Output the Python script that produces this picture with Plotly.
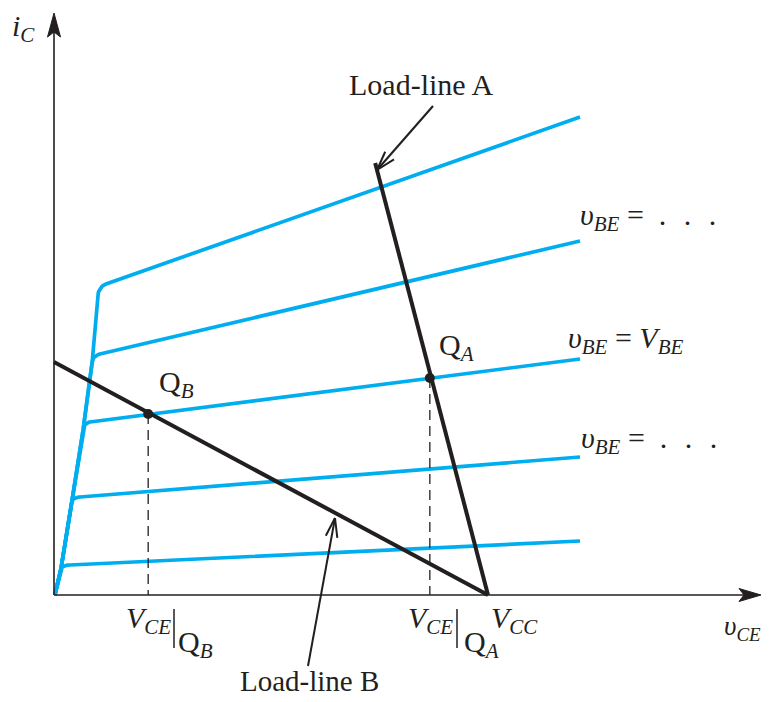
import numpy as np
import plotly.graph_objects as go

# ---------------- data (schematic: v_CE in V, i_C in mA) ----------------
VCC = 10.0
vce_end = 12.12
sat_origin_vce = 0.02
curve_vce_bend = [0.16, 0.41, 0.67, 0.88, 0.99]
curve_ic_bend = [0.52, 1.86, 3.30, 4.66, 5.90]
curve_vce_flat = [0.37, 0.60, 0.83, 1.06, 1.20]
curve_ic_flat = [0.60, 1.96, 3.46, 4.82, 6.22]
curve_ic_end = [1.08, 2.76, 4.72, 7.08, 9.56]

loadA_vce = [7.40, VCC]
loadA_ic = [8.64, 0.0]
loadB_vce = [0.0, VCC]
loadB_ic = [4.66, 0.0]
qA_vce, qA_ic = 8.66, 4.34
qB_vce, qB_ic = 2.17, 3.62

# ---------------- page geometry ----------------
W, H = 770, 702           # browser window
OFF = 8                   # default body margin of the html page
X0, Y0 = 54, 595          # window-pixel position of the origin
SX, SY = 43.4, 50.0       # pixels per unit
FIG_W, FIG_H = W - OFF, H - 2 * OFF


def X(px):
    return (px - X0) / SX


def Y(py):
    return (Y0 - py) / SY


BLUE = "rgb(0,174,239)"
BLACK = "#231f20"
FONT = "Liberation Serif"

fig = go.Figure()

# ---------------- characteristic curves ----------------
for k in range(len(curve_ic_end)):
    vs = [sat_origin_vce] + curve_vce_bend[:k + 1]
    is_ = [0.0] + curve_ic_bend[:k + 1]
    bx, by = curve_vce_bend[k], curve_ic_bend[k]
    px_, py_ = vs[-2], is_[-2]
    fx, fy = curve_vce_flat[k], curve_ic_flat[k]
    s = (curve_ic_end[k] - fy) / (vce_end - fx)
    dx, dy = bx - px_, by - py_
    t = (fy + s * (bx - fx) - by) / (dy - s * dx)
    cx, cy = bx + t * dx, by + t * dy
    tt = np.linspace(0, 1, 14)[1:]
    qx = (1 - tt) ** 2 * bx + 2 * tt * (1 - tt) * cx + tt ** 2 * fx
    qy = (1 - tt) ** 2 * by + 2 * tt * (1 - tt) * cy + tt ** 2 * fy
    xs = list(vs) + list(qx) + [vce_end]
    ys = list(is_) + list(qy) + [curve_ic_end[k]]
    fig.add_trace(go.Scatter(x=xs, y=ys, mode="lines",
                             line=dict(color=BLUE, width=3.7, shape="linear"),
                             hoverinfo="skip"))

# ---------------- load lines ----------------
for lx, ly in ((loadA_vce, loadA_ic), (loadB_vce, loadB_ic)):
    fig.add_trace(go.Scatter(x=lx, y=ly, mode="lines",
                             line=dict(color=BLACK, width=4), hoverinfo="skip"))

# dashed drop lines
for qx_, qy_ in ((qA_vce, qA_ic), (qB_vce, qB_ic)):
    fig.add_trace(go.Scatter(x=[qx_, qx_], y=[qy_, 0], mode="lines",
                             line=dict(color=BLACK, width=1.3, dash="10px,6px"),
                             hoverinfo="skip"))

# Q points
fig.add_trace(go.Scatter(x=[qA_vce, qB_vce], y=[qA_ic, qB_ic], mode="markers",
                         marker=dict(color=BLACK, size=10), hoverinfo="skip"))

shapes = []
# axes
shapes.append(dict(type="line", xref="x", yref="y", x0=0, y0=0, x1=X(745), y1=0,
                   line=dict(color=BLACK, width=1.6)))
shapes.append(dict(type="line", xref="x", yref="y", x0=0, y0=0, x1=0, y1=Y(30),
                   line=dict(color=BLACK, width=1.6)))
# axis arrowheads
shapes.append(dict(type="path", xref="x", yref="y",
                   path=f"M {X(761)},{Y(595)} L {X(739)},{Y(588.5)} L {X(744)},{Y(595)} L {X(739)},{Y(601.5)} Z",
                   fillcolor=BLACK, line=dict(color=BLACK, width=1)))
shapes.append(dict(type="path", xref="x", yref="y",
                   path=f"M {X(54)},{Y(13)} L {X(47.5)},{Y(37)} L {X(54)},{Y(32)} L {X(60.5)},{Y(37)} Z",
                   fillcolor=BLACK, line=dict(color=BLACK, width=1)))


def pointer(tail, tip, blen=20, ang=17):
    tx, ty = tail
    hx, hy = tip
    vx, vy = tx - hx, ty - hy
    n = np.hypot(vx, vy)
    vx, vy = vx / n, vy / n
    out = [dict(type="line", xref="x", yref="y", x0=X(tx), y0=Y(ty), x1=X(hx), y1=Y(hy),
                line=dict(color=BLACK, width=2))]
    for a in (ang, -ang):
        r = np.radians(a)
        bx = vx * np.cos(r) - vy * np.sin(r)
        by = vx * np.sin(r) + vy * np.cos(r)
        out.append(dict(type="line", xref="x", yref="y", x0=X(hx), y0=Y(hy),
                        x1=X(hx + blen * bx), y1=Y(hy + blen * by),
                        line=dict(color=BLACK, width=2)))
    return out


shapes += pointer((433, 106), (377, 170))
shapes += pointer((308, 666), (335, 518))

# vertical bars of "evaluated at" notation
shapes.append(dict(type="line", xref="x", yref="y", x0=X(457), y0=Y(609), x1=X(457), y1=Y(648),
                   line=dict(color=BLACK, width=1.5)))
shapes.append(dict(type="line", xref="x", yref="y", x0=X(174), y0=Y(609), x1=X(174), y1=Y(648),
                   line=dict(color=BLACK, width=1.5)))


def label(px, py, text, anchor="left", size=30):
    fig.add_annotation(x=X(px), y=Y(py), text=text, showarrow=False,
                       xanchor=anchor, yanchor="middle",
                       font=dict(family=FONT, size=size, color=BLACK))


DOTS = "=\u2002.\u2002\u200a.\u2002\u200a."

label(10, 28, "<i>i</i><sub><i>C</i></sub>")
label(421, 84, "Load-line A", anchor="center")
label(309, 681, "Load-line B", anchor="center", size=29)
label(437, 347, "Q<sub><i>A</i></sub>")
label(157, 384, "Q<sub><i>B</i></sub>")
label(578, 217, "<i>υ</i><sub><i>BE</i></sub> " + DOTS)
label(566, 340, "<i>υ</i><sub><i>BE</i></sub> = <i>V</i><sub><i>BE</i></sub>")
label(579, 440, "<i>υ</i><sub><i>BE</i></sub> " + DOTS)
label(406, 620, "<i>V</i><sub><i>CE</i></sub>")
label(462, 644, "Q<sub><i>A</i></sub>")
label(489, 620, "<i>V</i><sub><i>CC</i></sub>")
label(124, 620, "<i>V</i><sub><i>CE</i></sub>")
label(176, 644, "Q<sub><i>B</i></sub>")
label(722, 628, "<i>υ</i><sub><i>CE</i></sub>", size=27)

fig.update_layout(
    width=FIG_W, height=FIG_H, autosize=False,
    margin=dict(l=0, r=0, t=0, b=0, pad=0),
    paper_bgcolor="white", plot_bgcolor="white",
    showlegend=False, shapes=shapes,
    xaxis=dict(range=[X(OFF), X(OFF + FIG_W)], visible=False, fixedrange=True, domain=[0, 1]),
    yaxis=dict(range=[Y(OFF + FIG_H), Y(OFF)], visible=False, fixedrange=True, domain=[0, 1]),
)

fig.write_html("out.html")
